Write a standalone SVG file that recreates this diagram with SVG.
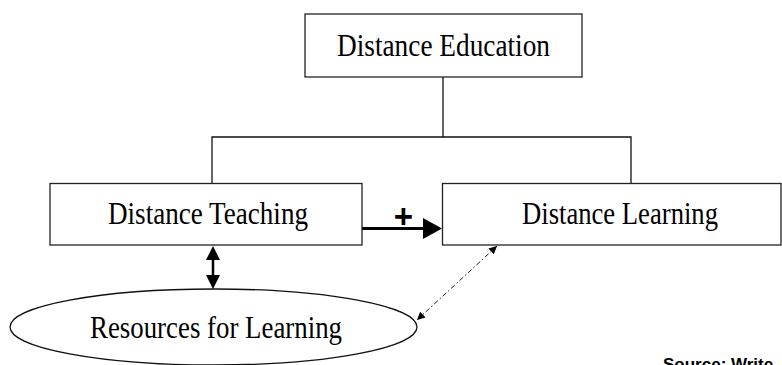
<svg xmlns="http://www.w3.org/2000/svg" width="782" height="365" viewBox="0 0 782 365">
<style>
.box{fill:#fff;stroke:#222;stroke-width:1.3}
.lbl{font-family:"Liberation Serif","Times New Roman",serif;font-size:30.5px;fill:#000;text-anchor:middle}
.tree{fill:none;stroke:#111;stroke-width:1.3}
</style>
<defs>
<marker id="bigHead" markerUnits="userSpaceOnUse" markerWidth="20" markerHeight="22" refX="5" refY="10.5" orient="auto">
<path d="M0,0 L19,10.5 L0,21 z" fill="#000"/>
</marker>
<marker id="dblHead" markerUnits="userSpaceOnUse" markerWidth="15" markerHeight="15" refX="8" refY="7" orient="auto-start-reverse">
<path d="M0,0 L14,7 L0,14 z" fill="#000"/>
</marker>
<marker id="smallHead" markerUnits="userSpaceOnUse" markerWidth="10" markerHeight="10" refX="8" refY="4" orient="auto-start-reverse">
<path d="M0,0 L8,4 L0,8 z" fill="#000"/>
</marker>
</defs>
<rect width="782" height="365" fill="#fff"/>
<g id="connectors">
<path class="tree" d="M443,77 V137 M212,183 V137 H631 V183"/>
<line x1="362" y1="228.5" x2="428" y2="228.5" stroke="#000" stroke-width="3" marker-end="url(#bigHead)"/>
<text x="403.5" y="228" font-family="'Liberation Sans',Arial,sans-serif" font-weight="bold" font-size="33" text-anchor="middle">+</text>
<line x1="213" y1="252" x2="213" y2="283" stroke="#000" stroke-width="2.5" marker-start="url(#dblHead)" marker-end="url(#dblHead)"/>
<line x1="497" y1="246" x2="417" y2="320" stroke="#222" stroke-width="1" stroke-dasharray="5 2.5 1.5 2.5" marker-start="url(#smallHead)" marker-end="url(#smallHead)"/>
</g>
<g id="node-education">
<rect class="box" x="305" y="14" width="277" height="63"/>
<text class="lbl" x="443.5" y="56" textLength="213" lengthAdjust="spacingAndGlyphs">Distance Education</text>
</g>
<g id="node-teaching">
<rect class="box" x="50" y="183.5" width="312" height="61.5"/>
<text class="lbl" x="208" y="224" textLength="200" lengthAdjust="spacingAndGlyphs">Distance Teaching</text>
</g>
<g id="node-learning">
<rect class="box" x="442.5" y="183.5" width="338.5" height="61.5"/>
<text class="lbl" x="620" y="224" textLength="196" lengthAdjust="spacingAndGlyphs">Distance Learning</text>
</g>
<g id="node-resources">
<ellipse cx="213.5" cy="327" rx="203.5" ry="38" fill="#fff" stroke="#111" stroke-width="1.3"/>
<text class="lbl" x="216" y="338" textLength="252" lengthAdjust="spacingAndGlyphs">Resources for Learning</text>
</g>
<text x="663" y="370" font-family="'Liberation Sans',Arial,sans-serif" font-weight="bold" font-size="17" fill="#000">Source: Write</text>
</svg>
